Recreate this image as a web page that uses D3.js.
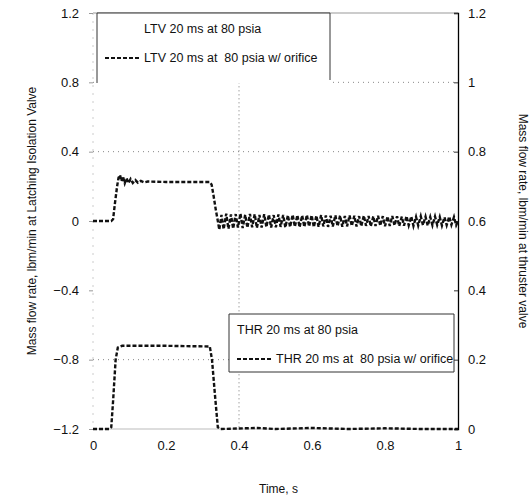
<!DOCTYPE html>
<html>
<head>
<meta charset="utf-8">
<script src="https://cdn.jsdelivr.net/npm/d3@7"></script>
<style>
  body { margin: 0; background: #fff; }
  svg { font-family: "Liberation Sans", Arial, sans-serif; }
</style>
</head>
<body>
<div id="chart"></div>
<script>
// ticks
const xTicks = [0, 0.2, 0.4, 0.6, 0.8, 1];
const leftTicks = [1.2, 0.8, 0.4, 0, -0.4, -0.8, -1.2];
const rightTicks = [1.2, 1, 0.8, 0.6, 0.4, 0.2, 0];
const gridLeft = [0.8, 0.4, -0.8];

// LTV w/ orifice, left axis [time s, lbm/min]
const ltvOrifice = [
  [0, 0], [0.05, 0], [0.055, 0.01], [0.06, 0.1], [0.066, 0.2], [0.07, 0.25],
  [0.074, 0.265], [0.078, 0.23], [0.082, 0.258], [0.087, 0.218], [0.092, 0.248],
  [0.097, 0.218], [0.103, 0.242], [0.109, 0.22], [0.116, 0.236], [0.123, 0.221],
  [0.131, 0.231], [0.14, 0.223], [0.15, 0.228], [0.2, 0.225], [0.25, 0.225],
  [0.32, 0.225], [0.325, 0.21], [0.33, 0.15], [0.336, 0.07], [0.342, 0.0],
  [0.346, -0.05],
  [0.352, 0.035], [0.358, -0.048], [0.365, 0.042], [0.371, -0.045], [0.378, 0.038],
  [0.384, -0.044], [0.391, 0.04], [0.397, -0.038], [0.404, 0.043], [0.410, -0.041],
  [0.417, 0.036], [0.423, -0.039], [0.430, 0.041], [0.436, -0.036], [0.443, 0.039],
  [0.449, -0.04], [0.456, 0.035], [0.462, -0.038], [0.469, 0.039], [0.475, -0.035],
  [0.482, 0.037], [0.488, -0.038], [0.495, 0.034], [0.501, -0.036], [0.508, 0.038],
  [0.514, -0.034], [0.521, 0.035], [0.527, -0.037], [0.534, 0.033], [0.540, -0.035],
  [0.547, 0.036], [0.553, -0.033], [0.560, 0.034], [0.566, -0.036], [0.573, 0.032],
  [0.579, -0.034], [0.586, 0.035], [0.592, -0.032], [0.599, 0.033], [0.605, -0.035],
  [0.612, 0.031], [0.618, -0.033], [0.625, 0.034], [0.631, -0.031], [0.638, 0.032],
  [0.644, -0.034], [0.651, 0.03], [0.657, -0.032], [0.664, 0.033], [0.670, -0.03],
  [0.677, 0.031], [0.683, -0.033], [0.690, 0.029], [0.696, -0.031], [0.703, 0.032],
  [0.709, -0.029], [0.716, 0.03], [0.722, -0.032], [0.729, 0.028], [0.735, -0.03],
  [0.742, 0.031], [0.748, -0.028], [0.755, 0.029], [0.761, -0.031], [0.768, 0.027],
  [0.774, -0.029], [0.781, 0.03], [0.787, -0.027], [0.794, 0.028], [0.800, -0.03],
  [0.807, 0.026], [0.813, -0.028], [0.820, 0.029], [0.826, -0.026], [0.833, 0.027],
  [0.839, -0.029], [0.846, 0.025], [0.852, -0.027], [0.859, 0.028], [0.865, -0.025],
  [0.872, 0.026], [0.878, -0.028], [0.885, 0.024], [0.891, -0.026], [0.898, 0.027],
  [0.904, -0.024], [0.911, 0.025], [0.917, -0.027], [0.924, 0.023], [0.930, -0.025],
  [0.937, 0.026], [0.943, -0.023], [0.950, 0.024], [0.956, -0.026], [0.963, 0.022],
  [0.969, -0.024], [0.976, 0.025], [0.982, -0.022], [0.989, 0.023], [0.995, -0.024],
  [1.0, 0.0]
];

// THR w/ orifice, right axis [time s, lbm/min]
const thrOrifice = [
  [0, 0], [0.045, 0], [0.05, 0.005], [0.055, 0.08], [0.062, 0.2], [0.068, 0.235],
  [0.08, 0.24], [0.2, 0.24], [0.32, 0.238], [0.326, 0.2], [0.334, 0.1],
  [0.342, 0.005], [0.35, 0], [0.45, 0.003], [0.5, 0], [0.6, 0.003], [0.7, 0],
  [0.8, 0.002], [0.9, 0], [1, 0]
];

const W = 529, H = 504;
const plot = { left: 93, right: 458, top: 13, bottom: 429 };

const svg = d3.select("#chart").append("svg")
  .attr("width", W).attr("height", H);

const x = d3.scaleLinear().domain([0, 1]).range([plot.left, plot.right]);
const yL = d3.scaleLinear().domain([-1.2, 1.2]).range([plot.bottom, plot.top]);
const yR = d3.scaleLinear().domain([0, 1.2]).range([plot.bottom, plot.top]);

// dotted grid
svg.append("g").selectAll("line").data(gridLeft).enter().append("line")
  .attr("x1", plot.left).attr("x2", plot.right)
  .attr("y1", d => yL(d)).attr("y2", d => yL(d))
  .attr("stroke", "#888").attr("stroke-width", 1)
  .attr("stroke-dasharray", "1,4");

svg.append("line")
  .attr("x1", x(0.4)).attr("x2", x(0.4))
  .attr("y1", yL(0.8)).attr("y2", plot.bottom)
  .attr("stroke", "#777").attr("stroke-width", 1)
  .attr("stroke-dasharray", "1,3");

// frame: faint top/left/bottom, solid right
svg.append("line")
  .attr("x1", plot.left).attr("x2", plot.right)
  .attr("y1", plot.top).attr("y2", plot.top)
  .attr("stroke", "#999").attr("stroke-width", 1);
svg.append("line")
  .attr("x1", plot.left).attr("x2", plot.left)
  .attr("y1", plot.top).attr("y2", plot.bottom)
  .attr("stroke", "#ccc").attr("stroke-width", 1)
  .attr("stroke-dasharray", "2,6");
svg.append("line")
  .attr("x1", plot.left).attr("x2", plot.right)
  .attr("y1", plot.bottom).attr("y2", plot.bottom)
  .attr("stroke", "#bbb").attr("stroke-width", 1);

// axes
const fmt = d => d3.format("")(+d.toFixed(1));
const axisL = svg.append("g")
  .attr("transform", `translate(${plot.left},0)`)
  .call(d3.axisLeft(yL).tickValues(leftTicks).tickSize(4).tickPadding(10).tickFormat(fmt));
const axisR = svg.append("g")
  .attr("transform", `translate(${plot.right},0)`)
  .call(d3.axisRight(yR).tickValues(rightTicks).tickSize(-4).tickPadding(10).tickFormat(fmt));
const axisB = svg.append("g")
  .attr("transform", `translate(0,${plot.bottom})`)
  .call(d3.axisBottom(x).tickValues(xTicks).tickSize(0).tickPadding(12).tickFormat(fmt));

axisL.select(".domain").remove();
axisB.select(".domain").remove();
axisR.select(".domain").attr("stroke", "#000").attr("stroke-width", 1.3);
axisL.selectAll(".tick line").attr("stroke", "#999");
axisR.selectAll(".tick line").attr("stroke", "#333");
[axisL, axisR, axisB].forEach(a => a.selectAll("text")
  .attr("fill", "#111").style("font-size", "13px")
  .style("font-family", "'Liberation Sans', Arial, sans-serif"));

// series
const lineL = d3.line().x(d => x(d[0])).y(d => yL(d[1]));
const lineR = d3.line().x(d => x(d[0])).y(d => yR(d[1]));

svg.append("path").datum(ltvOrifice)
  .attr("fill", "none").attr("stroke", "#111").attr("stroke-width", 2.4)
  .attr("stroke-dasharray", "4,2").attr("d", lineL);

svg.append("path").datum(thrOrifice)
  .attr("fill", "none").attr("stroke", "#111").attr("stroke-width", 2.4)
  .attr("stroke-dasharray", "4,2").attr("d", lineR);

// legends
function legend(x0, y0, w, h, labels, t1x, openBottom) {
  const g = svg.append("g").attr("transform", `translate(${x0},${y0})`);
  g.append("rect").attr("width", w).attr("height", h).attr("fill", "#fff");
  g.append("path")
    .attr("d", openBottom ? `M0,${h}V0H${w}V${h - 3}` : `M0,0H${w}V${h}H0Z`)
    .attr("fill", "none").attr("stroke", "#333").attr("stroke-width", 1);
  g.append("text").attr("x", t1x).attr("y", 20).text(labels[0])
    .style("font-size", "12.5px").attr("fill", "#111");
  g.append("line").attr("x1", 8).attr("x2", 44).attr("y1", 45).attr("y2", 45)
    .attr("stroke", "#111").attr("stroke-width", 2.2).attr("stroke-dasharray", "4,2");
  g.append("text").attr("x", 47).attr("y", 49).text(labels[1])
    .style("font-size", "12.5px").attr("fill", "#111").style("white-space", "pre");
}
legend(97, 13, 233, 70, ["LTV 20 ms at 80 psia", "LTV 20 ms at  80 psia w/ orifice"], 47, true);
legend(229, 314, 225, 58, ["THR 20 ms at 80 psia", "THR 20 ms at  80 psia w/ orifice"], 8, false);

// axis titles
svg.append("text")
  .attr("transform", `translate(36,${(plot.top + plot.bottom) / 2}) rotate(-90)`)
  .attr("text-anchor", "middle").style("font-size", "12px").attr("fill", "#111")
  .text("Mass flow rate, lbm/min  at Latching Isolation Valve");
svg.append("text")
  .attr("transform", `translate(519,${(plot.top + plot.bottom) / 2}) rotate(90)`)
  .attr("text-anchor", "middle").style("font-size", "12px").attr("fill", "#111")
  .text("Mass flow rate, lbm/min at thruster valve");
svg.append("text")
  .attr("x", x(0.5) + 3).attr("y", 493)
  .attr("text-anchor", "middle").style("font-size", "12px").attr("fill", "#111")
  .text("Time, s");
</script>
</body>
</html>
